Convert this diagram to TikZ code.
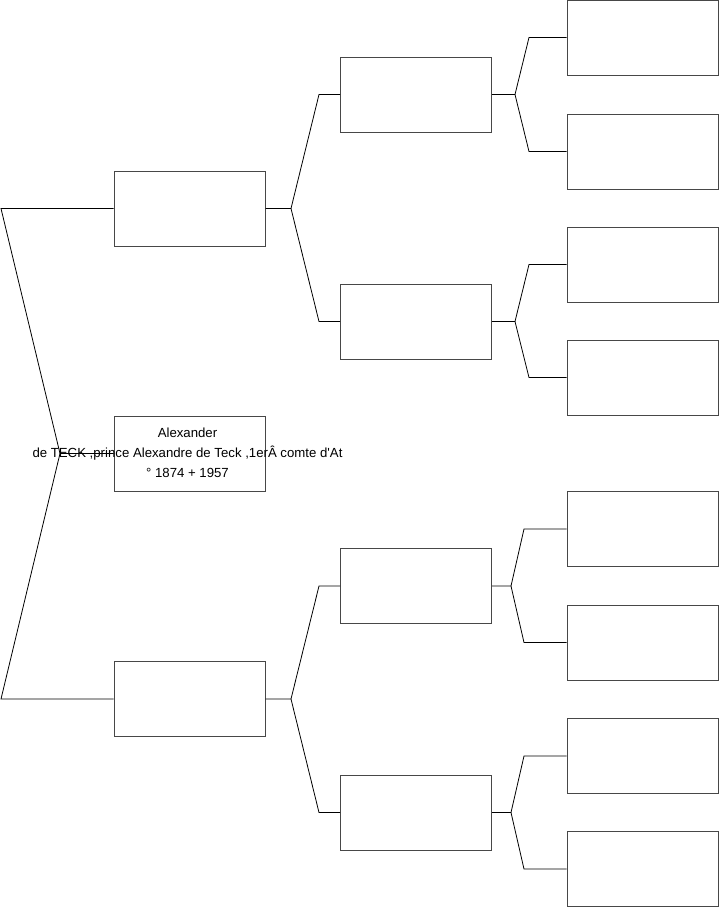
\documentclass[tikz,border=0pt]{standalone}
\usepackage{fontspec}
\setmainfont{Liberation Sans}[Ligatures=TeXOff]
\begin{document}
\begin{tikzpicture}[x=1pt,y=-1pt,
  pbox/.style={draw=black!72,line width=1pt,fill=white,minimum width=151pt,minimum height=75pt,inner sep=0pt},
  link/.style={draw=black,line width=0.8pt},
  lbl/.style={align=center,inner sep=0pt,font=\fontsize{13.2}{20}\selectfont}]
\useasboundingbox (0,0) rectangle (719,908);
% coordinates of forks and bends
\coordinate (f0) at (60,453.5);
\coordinate (bF) at (1,208.5);
\coordinate (bM) at (1,699);
\coordinate (fF) at (291,208.5);
\coordinate (bFF) at (319,94.5);
\coordinate (bFM) at (319,321.5);
\coordinate (fM) at (291,699);
\coordinate (bMF) at (319,586);
\coordinate (bMM) at (319,812.5);
\coordinate (fFF) at (515,94.5);
\coordinate (b1) at (529,37.5);
\coordinate (b2) at (529,151.5);
\coordinate (fFM) at (515,321.5);
\coordinate (b3) at (529,264.5);
\coordinate (b4) at (529,377.5);
\coordinate (fMF) at (511,586);
\coordinate (b5) at (524,529);
\coordinate (b6) at (524,642.5);
\coordinate (fMM) at (511,812.5);
\coordinate (b7) at (524,756);
\coordinate (b8) at (524,869);
% boxes
\node[pbox] (root) at (189.5,453.5) {};
\node[pbox] (F) at (189.5,208.5) {};
\node[pbox] (M) at (189.5,699) {};
\node[pbox] (FF) at (416,94.5) {};
\node[pbox] (FM) at (416,321.5) {};
\node[pbox] (MF) at (416,586) {};
\node[pbox] (MM) at (416,812.5) {};
\node[pbox] (g1) at (642.5,37.5) {};
\node[pbox] (g2) at (642.5,151.5) {};
\node[pbox] (g3) at (642.5,264.5) {};
\node[pbox] (g4) at (642.5,377.5) {};
\node[pbox] (g5) at (642.5,529) {};
\node[pbox] (g6) at (642.5,642.5) {};
\node[pbox] (g7) at (642.5,756) {};
\node[pbox] (g8) at (642.5,869) {};
% connectors
\draw[link] (root.west) -- (f0) -- (bF) -- (F.west);
\draw[link] (f0) -- (bM) -- (M.west);
\draw[link] (F.east) -- (fF) -- (bFF) -- (FF.west);
\draw[link] (fF) -- (bFM) -- (FM.west);
\draw[link] (M.east) -- (fM) -- (bMF) -- (MF.west);
\draw[link] (fM) -- (bMM) -- (MM.west);
\draw[link] (FF.east) -- (fFF) -- (b1) -- (g1.west);
\draw[link] (fFF) -- (b2) -- (g2.west);
\draw[link] (FM.east) -- (fFM) -- (b3) -- (g3.west);
\draw[link] (fFM) -- (b4) -- (g4.west);
\draw[link] (MF.east) -- (fMF) -- (b5) -- (g5.west);
\draw[link] (fMF) -- (b6) -- (g6.west);
\draw[link] (MM.east) -- (fMM) -- (b7) -- (g7.west);
\draw[link] (fMM) -- (b8) -- (g8.west);
% label
\node[lbl] (rootlabel) at (187.5,453) {Alexander\\de TECK ,prince Alexandre de Teck ,1erÂ comte d'At\\° 1874 + 1957};
\end{tikzpicture}
\end{document}
